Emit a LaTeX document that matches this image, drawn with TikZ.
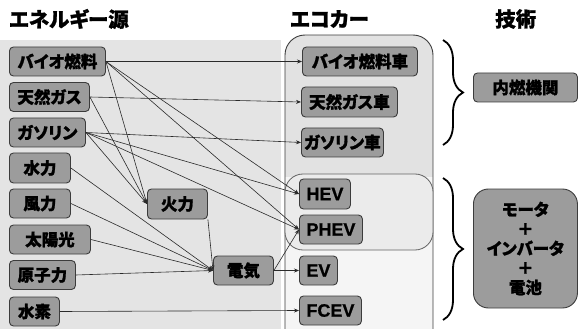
\documentclass[tikz,border=0pt]{standalone}
\usepackage{fontspec}
\setmainfont{Noto Sans CJK JP}[CharacterWidth=AlternateProportional, BoldFeatures={FakeBold=1.2}]
\newfontfamily\latb{Liberation Sans}[BoldFeatures={FakeBold=0.8}]
\usetikzlibrary{arrows.meta,decorations.pathreplacing}
\definecolor{boxfill}{HTML}{9C9C9C}
\definecolor{boxline}{HTML}{3C3C3C}
\definecolor{bgL}{HTML}{E4E4E4}
\definecolor{bgTop}{HTML}{E2E2E2}
\definecolor{bgLow}{HTML}{F5F5F5}
\definecolor{bgIn}{HTML}{EBEBEB}
\definecolor{lineclr}{HTML}{2A2A2A}
\tikzset{
  bx/.style={draw=boxline, fill=boxfill, line width=0.9pt, rounded corners=4pt,
    inner sep=0pt, anchor=west, text=black,
    font=\bfseries\fontsize{16.5}{16.5}\selectfont},
  lbx/.style={bx, font=\latb\bfseries\fontsize{18}{18}\selectfont},
  hdr/.style={font=\bfseries\fontsize{20.5}{20.5}\selectfont, inner sep=0pt},
  cn/.style={draw=lineclr, line width=0.6pt, -{Stealth[length=5pt,width=4pt]}},
  brc/.style={line width=1.8pt, decorate, decoration={brace, amplitude=20pt}},
}
\begin{document}
\begin{tikzpicture}[x=1pt,y=-1pt]
\useasboundingbox (0,0) rectangle (582,329);
% backgrounds
\fill[bgL] (0,40) rectangle (281,329);
\fill[white] (281,35) rectangle (285,329);
\begin{scope}
  \clip[rounded corners=20pt] (285,35) rectangle (433,350);
  \fill[bgLow] (285,35) rectangle (433,350);
  \fill[bgTop] (285,35) rectangle (433,177);
\end{scope}
\draw[boxline, line width=0.9pt, rounded corners=20pt] (285,35) rectangle (433,350);
\draw[boxline!80, line width=0.8pt, fill=bgIn, rounded corners=18pt] (285,174) rectangle (433,250);

% headers
\node[hdr, anchor=west] (h1) at (9,19) {エネルギー源};
\node[hdr, anchor=west] (h2) at (290,19) {エコカー};
\node[hdr, anchor=west] (h3) at (495,19) {技術};

% energy sources
\node[bx, minimum width=96, minimum height=29] (bio) at (9,61.5) {バイオ燃料};
\node[bx, minimum width=80, minimum height=29] (ng) at (9,97) {天然ガス};
\node[bx, minimum width=76, minimum height=29] (gaso) at (9,132.5) {ガソリン};
\node[bx, minimum width=61, minimum height=30] (hydro) at (9,168) {水力};
\node[bx, minimum width=61, minimum height=29] (wind) at (9,203.5) {風力};
\node[bx, minimum width=81, minimum height=29] (solar) at (9,239.5) {太陽光};
\node[bx, minimum width=66, minimum height=29] (nuc) at (9,275) {原子力};
\node[bx, minimum width=50, minimum height=29] (h2src) at (9,311.5) {水素};
\node[bx, minimum width=60, minimum height=30] (thermal) at (147,204) {火力};
\node[bx, minimum width=60, minimum height=29] (elec) at (213,270.5) {電気};

% eco cars
\node[bx, minimum width=115, minimum height=29] (bioc) at (302,61.5) {バイオ燃料車};
\node[bx, minimum width=96, minimum height=30] (ngc) at (301,102) {天然ガス車};
\node[bx, minimum width=82, minimum height=29] (gasoc) at (301,142.5) {ガソリン車};
\node[lbx, minimum width=51, minimum height=30] (hev) at (299,194) {HEV};
\node[lbx, minimum width=63, minimum height=29] (phev) at (299,229.5) {PHEV};
\node[lbx, minimum width=38, minimum height=29] (ev) at (299,270.5) {EV};
\node[lbx, minimum width=62, minimum height=29] (fcev) at (299,310.5) {FCEV};

% technology
\node[bx, minimum width=104, minimum height=29] (ice) at (473,87.5) {内燃機関};
\node[bx, rounded corners=15pt, minimum width=104, minimum height=119, align=center,
  font=\bfseries\fontsize{16.5}{19.5}\selectfont] (motor) at (473,248.5)
  {モータ\\＋\\インバータ\\＋\\電池};

% braces
\draw[brc] (443,40) -- (443,145);
\draw[brc] (443,178) -- (443,320);

% connectors
\draw[cn] (bio.east) -- (bioc.west);
\draw[cn] (ng.east) -- (ngc.west);
\draw[cn] (gaso.east) -- (gasoc.west);
\draw[cn] (bio.east) -- (thermal.west);
\draw[cn] (bio.east) -- (hev.west);
\draw[cn] (bio.east) -- (phev.west);
\draw[cn] (ng.east) -- (thermal.west);
\draw[cn] (gaso.east) -- (thermal.west);
\draw[cn] (gaso.east) -- (hev.west);
\draw[cn] (gaso.east) -- (phev.west);
\draw[cn] (hydro.east) -- (elec.west);
\draw[cn] (wind.east) -- (elec.west);
\draw[cn] (solar.east) -- (elec.west);
\draw[cn] (nuc.east) -- (elec.west);
\draw[cn] (thermal.south east) -- (elec.west);
\draw[cn] (elec.east) -- (phev.west);
\draw[cn] (elec.east) -- (ev.west);
\draw[cn] (h2src.east) -- (fcev.west);
\end{tikzpicture}
\end{document}
